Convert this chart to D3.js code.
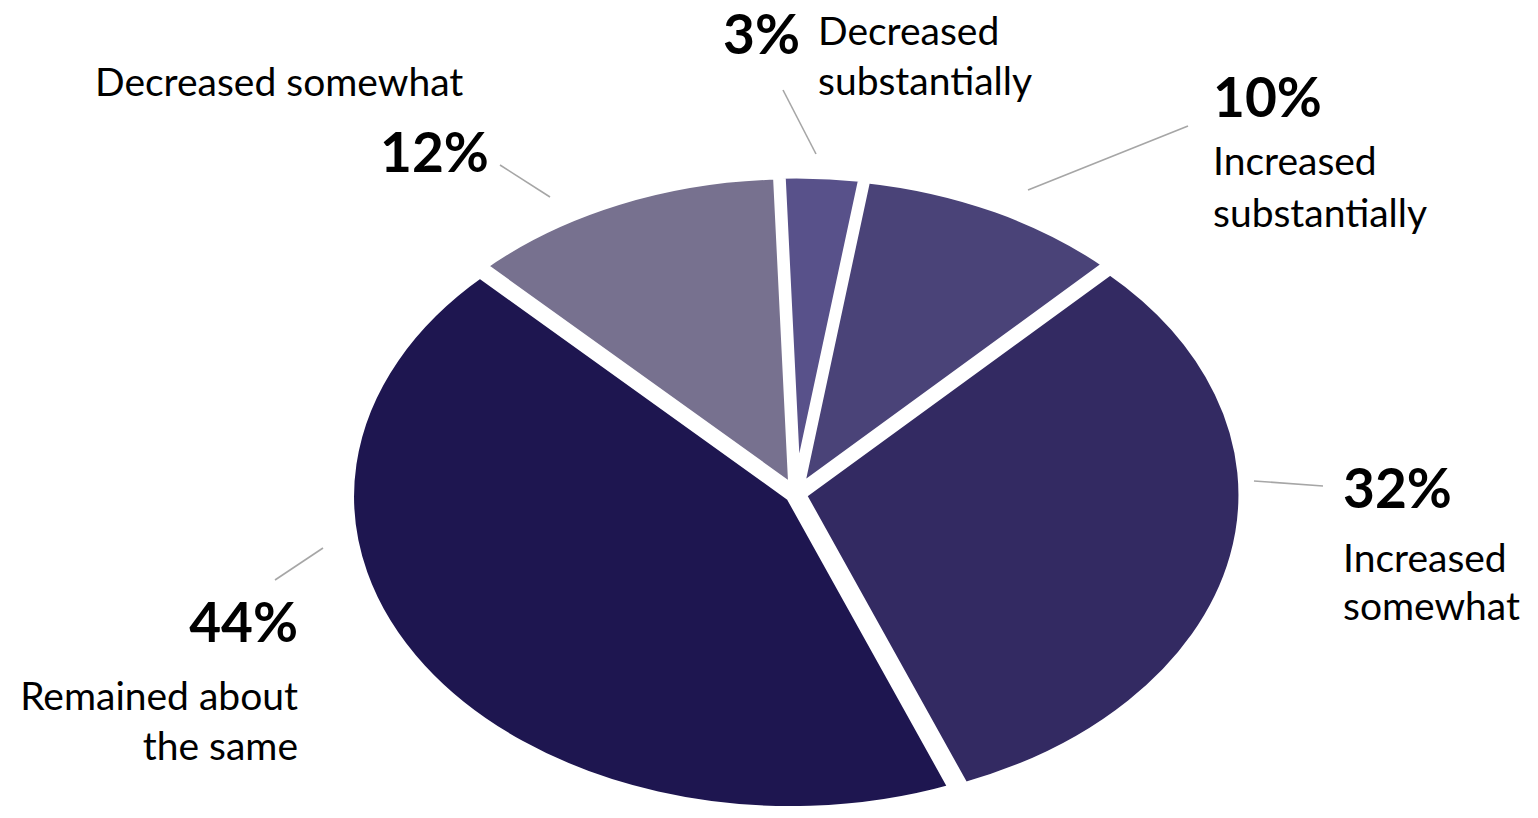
<!DOCTYPE html>
<html><head><meta charset="utf-8">
<script src="https://cdn.jsdelivr.net/npm/d3@7"></script>
<style>html,body{margin:0;padding:0;background:#fff;} svg{display:block;font-family:Lato,"Noto Sans",sans-serif;}</style>
</head><body><svg id="chart" width="1538" height="818"></svg>
<script>
// ---- data ----
const categories = ["Decreased substantially","Increased substantially","Increased somewhat","Remained about the same","Decreased somewhat"];
const values = [3, 10, 32, 44, 12];
const valueLabels = ["3%", "10%", "32%", "44%", "12%"];
const labelLines = [["Decreased","substantially"],["Increased","substantially"],["Increased","somewhat"],["Remained about","the same"],["Decreased somewhat"]];

// ---- style / layout ----
const colors = ["#58518a","#4a4378","#332a62","#1e1650","#77718f"];
const cx = 796, cy = 494, rx = 441, ry = 314;
const k = ry / rx;
const startAngle = -0.035;
const explode = 6;      // px, along slice bisector
const gapStroke = 9;    // white border, px
const layout = [
  {pct:{x:723,y:54,a:"start"}, name:{x:818,y:[45,95],a:"start"}, leader:[[816,154],[783,90]]},
  {pct:{x:1213,y:117,a:"start"}, name:{x:1213,y:[175,227],a:"start"}, leader:[[1028,190],[1188,126]]},
  {pct:{x:1343,y:508,a:"start"}, name:{x:1343,y:[572,620],a:"start"}, leader:[[1254,481],[1323,486]]},
  {pct:{x:298,y:642,a:"end"}, name:{x:298,y:[710,760],a:"end"}, leader:[[323,548],[275,580]]},
  {pct:{x:380,y:172,a:"start"}, name:{x:95,y:[96],a:"start"}, leader:[[550,197],[500,165]]}
];
const pctSize = 55, nameSize = 39;

const svg = d3.select("#chart");
const pie = d3.pie().sort(null).value(d => d)
  .startAngle(startAngle).endAngle(startAngle + 2*Math.PI);
const arcs = pie(values);
const arc = d3.arc().innerRadius(0).outerRadius(rx);

function offset(d) {
  const a = (d.startAngle + d.endAngle) / 2;
  let ux = Math.sin(a), uy = -k * Math.cos(a);
  const n = Math.hypot(ux, uy);
  return [explode * ux / n, explode * uy / n];
}

svg.append("g").selectAll("path.slice").data(arcs).enter().append("path")
  .attr("class","slice")
  .attr("transform", d => { const o = offset(d); return `translate(${cx + o[0]},${cy + o[1]}) scale(1,${k})`; })
  .attr("d", arc)
  .attr("fill", (d,i) => colors[i])
  .attr("stroke", "#fff")
  .attr("stroke-width", gapStroke)
  .attr("stroke-linejoin", "round")
  .attr("vector-effect", "non-scaling-stroke");

// leader lines
svg.append("g").selectAll("line").data(layout).enter().append("line")
  .attr("x1", d => d.leader[0][0]).attr("y1", d => d.leader[0][1])
  .attr("x2", d => d.leader[1][0]).attr("y2", d => d.leader[1][1])
  .attr("stroke", "#a6a6a6").attr("stroke-width", 1.6);

// labels
const lab = svg.append("g");
layout.forEach((L, i) => {
  lab.append("text").attr("x", L.pct.x).attr("y", L.pct.y)
    .attr("text-anchor", L.pct.a).attr("font-size", pctSize).attr("font-weight", 700)
    .attr("fill", "#000").text(valueLabels[i]);
  labelLines[i].forEach((line, j) => {
    lab.append("text").attr("x", L.name.x).attr("y", L.name.y[j])
      .attr("text-anchor", L.name.a).attr("font-size", nameSize)
      .attr("fill", "#000").text(line);
  });
});
</script>
</body></html>
